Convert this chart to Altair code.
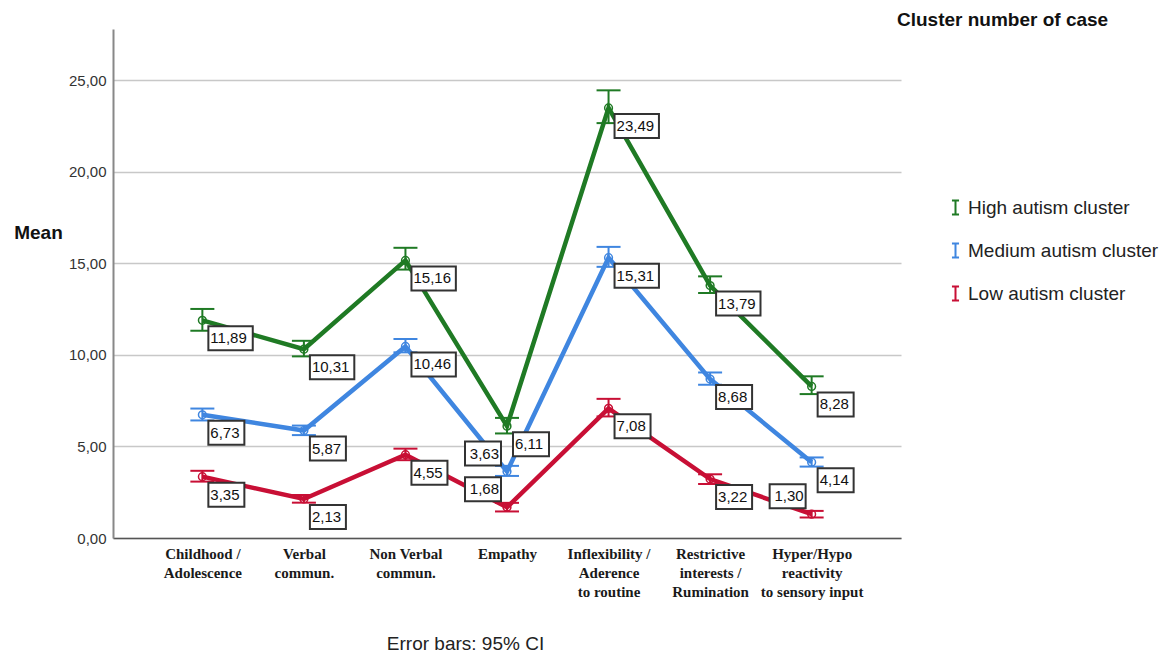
import altair as alt
import pandas as pd

# Symptom domains (x axis), one line per cluster
CATEGORIES = [
    "Childhood /\nAdolescence",
    "Verbal\ncommun.",
    "Non Verbal\ncommun.",
    "Empathy",
    "Inflexibility /\nAderence\nto routine",
    "Restrictive\ninterests /\nRumination",
    "Hyper/Hypo\nreactivity\nto sensory input",
]
CLUSTERS = ["High autism cluster", "Medium autism cluster", "Low autism cluster"]
COLORS = ["#1f7a24", "#3f86e0", "#c80f35"]

# Means
HIGH_MEAN = [11.89, 10.31, 15.16, 6.11, 23.49, 13.79, 8.28]
MEDIUM_MEAN = [6.73, 5.87, 10.46, 3.63, 15.31, 8.68, 4.14]
LOW_MEAN = [3.35, 2.13, 4.55, 1.68, 7.08, 3.22, 1.30]

# 95% confidence interval bounds
HIGH_LO = [11.32, 9.92, 14.66, 5.71, 22.66, 13.38, 7.86]
HIGH_HI = [12.51, 10.77, 15.85, 6.56, 24.45, 14.29, 8.83]
MEDIUM_LO = [6.42, 5.62, 10.14, 3.39, 14.81, 8.37, 3.90]
MEDIUM_HI = [7.07, 6.14, 10.87, 3.94, 15.90, 9.04, 4.40]
LOW_LO = [3.08, 1.93, 4.25, 1.45, 6.64, 2.95, 1.12]
LOW_HI = [3.67, 2.35, 4.88, 1.92, 7.60, 3.48, 1.48]

# Which side of the point each value box sits on
HIGH_SIDE = ["R", "R", "R", "R", "R", "R", "R"]
MEDIUM_SIDE = ["R", "R", "R", "L", "R", "R", "R"]
LOW_SIDE = ["R", "R", "R", "L", "R", "R", "L"]

Y_TICKS = [0, 5, 10, 15, 20, 25]
Y_TITLE = "Mean"
X_TITLE = "Error bars: 95% CI"
LEGEND_TITLE = "Cluster number of case"

rows = []
for name, means, los, his, sides in [
    (CLUSTERS[0], HIGH_MEAN, HIGH_LO, HIGH_HI, HIGH_SIDE),
    (CLUSTERS[1], MEDIUM_MEAN, MEDIUM_LO, MEDIUM_HI, MEDIUM_SIDE),
    (CLUSTERS[2], LOW_MEAN, LOW_LO, LOW_HI, LOW_SIDE),
]:
    for cat, m, lo, hi, side in zip(CATEGORIES, means, los, his, sides):
        label = f"{m:.2f}".replace(".", ",")
        rows.append({
            "category": cat, "cluster": name, "mean": m, "lo": lo, "hi": hi,
            "side": side, "label": label, "box": f"{side}{len(label)}",
        })
df = pd.DataFrame(rows)

FONT = "Liberation Sans"
W, H = 788, 509

# Value boxes drawn as custom symbols offset from the point (unit = 12 px)
BOX_KEYS = ["R4", "R5", "L4", "L5"]
BOX_PATHS = [
    "M0.5,0.5H3.5V2.5H0.5Z",
    "M0.5,0.5H4.2V2.5H0.5Z",
    "M-3.5,-2.5H-0.5V-0.5H-3.5Z",
    "M-4.2,-2.5H-0.5V-0.5H-4.2Z",
]

x_enc = alt.X(
    "category:N",
    sort=CATEGORIES,
    scale=alt.Scale(type="point", padding=0.88),
    axis=alt.Axis(
        title=X_TITLE,
        labelAngle=0,
        labelExpr="split(datum.value, '\\n')",
        labelFont="Liberation Serif",
        labelFontWeight="bold",
        labelFontSize=15,
        labelColor="#1a1a1a",
        labelLineHeight=19,
        labelPadding=8,
        labelLimit=0,
        ticks=False,
        domainColor="#555555",
        domainWidth=1.5,
        titleFont=FONT,
        titleFontSize=19,
        titleFontWeight="normal",
        titleColor="#222222",
        titleX=352,
        titleY=105,
        titleAlign="center",
        titleBaseline="middle",
    ),
)
y_scale = alt.Scale(domain=[0, 27.8], nice=False, zero=True)
y_enc = alt.Y(
    "mean:Q",
    scale=y_scale,
    axis=alt.Axis(
        title=Y_TITLE,
        values=Y_TICKS,
        labelExpr="replace(format(datum.value, '.2f'), '.', ',')",
        labelFont=FONT,
        labelFontSize=15,
        labelColor="#333333",
        labelPadding=7,
        ticks=False,
        grid=True,
        gridColor="#c8c8c8",
        gridWidth=1.5,
        domainColor="#888888",
        domainWidth=2,
        titleAngle=0,
        titleFont=FONT,
        titleFontSize=19,
        titleFontWeight="bold",
        titleColor="#111111",
        titleX=-75,
        titleY=203,
        titleAlign="center",
        titleBaseline="middle",
    ),
)
color_enc = alt.Color(
    "cluster:N",
    scale=alt.Scale(domain=CLUSTERS, range=COLORS),
    legend=alt.Legend(
        title=None,
        orient="none",
        legendX=833,
        legendY=169,
        symbolType="M-0.5,-1H0.5M0,-1V1M-0.5,1H0.5",
        symbolSize=200,
        symbolStrokeWidth=2,
        symbolFillColor="transparent",
        labelFont=FONT,
        labelFontSize=19,
        labelColor="#222222",
        labelOffset=3,
        labelLimit=0,
        rowPadding=20,
    ),
)

cscale = alt.Scale(domain=CLUSTERS, range=COLORS)
x_plain = alt.X("category:N", sort=CATEGORIES)

base = alt.Chart(df)

lines = base.mark_line(strokeWidth=4.5).encode(
    x=x_enc, y=y_enc, color=color_enc, detail="cluster:N"
)
bars = base.mark_rule(strokeWidth=2).encode(
    x=x_plain,
    y=alt.Y("lo:Q", scale=y_scale),
    y2="hi:Q",
    color=alt.Color("cluster:N", scale=cscale, legend=None),
)
caps_lo = base.mark_tick(size=24, thickness=2, opacity=1).encode(
    x=x_plain,
    y=alt.Y("lo:Q", scale=y_scale),
    color=alt.Color("cluster:N", scale=cscale, legend=None),
)
caps_hi = base.mark_tick(size=24, thickness=2, opacity=1).encode(
    x=x_plain,
    y=alt.Y("hi:Q", scale=y_scale),
    color=alt.Color("cluster:N", scale=cscale, legend=None),
)
points = base.mark_point(shape="circle", size=60, strokeWidth=1.5, opacity=1, filled=False).encode(
    x=x_plain,
    y=alt.Y("mean:Q", scale=y_scale),
    color=alt.Color("cluster:N", scale=cscale, legend=None),
)
boxes = base.mark_point(
    filled=True, fill="white", stroke="#333333", strokeWidth=2, opacity=1, size=576
).encode(
    x=x_plain,
    y=alt.Y("mean:Q", scale=y_scale),
    shape=alt.Shape("box:N", scale=alt.Scale(domain=BOX_KEYS, range=BOX_PATHS), legend=None),
)
text_r = base.transform_filter(alt.datum.side == "R").mark_text(
    align="left", baseline="middle", dx=8, dy=18, font=FONT, fontSize=15, color="#111111"
).encode(
    x=x_plain,
    y=alt.Y("mean:Q", scale=y_scale),
    text="label:N",
)
text_l = base.transform_filter(alt.datum.side == "L").mark_text(
    align="right", baseline="middle", dx=-8, dy=-18, font=FONT, fontSize=15, color="#111111"
).encode(
    x=x_plain,
    y=alt.Y("mean:Q", scale=y_scale),
    text="label:N",
)
legend_title = alt.Chart(pd.DataFrame({"t": [LEGEND_TITLE]})).mark_text(
    align="left", baseline="middle", font=FONT, fontSize=19, fontWeight="bold", color="#111111"
).encode(x=alt.value(784), y=alt.value(-9), text="t:N")

chart = (
    alt.layer(lines, bars, caps_lo, caps_hi, points, boxes, text_r, text_l, legend_title)
    .properties(
        width=W,
        height=H,
        autosize=alt.AutoSizeParams(type="none"),
        padding={"left": 113, "top": 29, "right": 273, "bottom": 117},
        background="white",
    )
    .configure_view(stroke=None)
)

chart.save("out.html", embed_options={"renderer": "svg", "actions": False})
